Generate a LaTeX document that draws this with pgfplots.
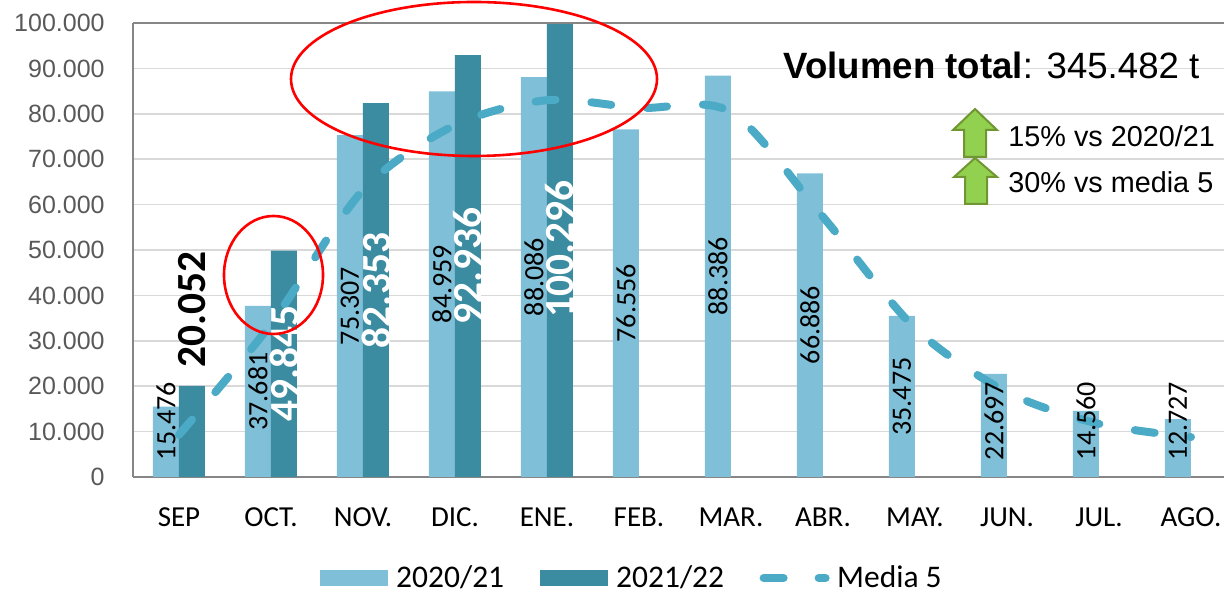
\documentclass[border=0pt]{standalone}
\usepackage{fontspec}
\setmainfont{Carlito}
\newfontfamily\arial{Liberation Sans}
\usepackage{pgfplots}
\pgfplotsset{compat=1.18}
\definecolor{lightbar}{RGB}{127,191,215}
\definecolor{darkbar}{RGB}{59,139,161}
\definecolor{medline}{RGB}{75,170,198}
\definecolor{gridc}{RGB}{217,217,217}
\definecolor{axisc}{RGB}{134,134,134}
\definecolor{tickc}{RGB}{89,89,89}
\definecolor{arrowfill}{RGB}{146,208,80}
\definecolor{arrowdraw}{RGB}{112,150,50}
\begin{document}
\begin{tikzpicture}
\useasboundingbox (0,0) rectangle (612pt,296.5pt);
\begin{axis}[
  at={(66.5pt,58pt)}, anchor=south west,
  width=545.5pt, height=227pt, scale only axis,
  xmin=-0.5, xmax=11.359, ymin=0, ymax=100000,
  scaled y ticks=false,
  axis x line*=bottom, axis y line*=left,
  axis line style={-, draw=axisc, line width=0.75pt},
  ytick={0,10000,20000,30000,40000,50000,60000,70000,80000,90000,100000},
  yticklabels={0,10.000,20.000,30.000,40.000,50.000,60.000,70.000,80.000,90.000,100.000},
  xtick={0,1,2,3,4,5,6,7,8,9,10,11},
  xticklabels={SEP,OCT.,NOV.,DIC.,ENE.,FEB.,MAR.,ABR.,MAY.,JUN.,JUL.,AGO.},
  major tick length=0pt,
  ymajorgrids, grid style={gridc, line width=0.75pt},
  yticklabel style={font=\arial\fontsize{12.5pt}{12.5pt}\selectfont, text=tickc, anchor=east, inner sep=0pt, xshift=-14pt},
  xticklabel style={font=\fontsize{14.5pt}{14.5pt}\selectfont, anchor=base, inner sep=0pt, yshift=-25pt},
  legend style={at={(0.4578,-0.2225)}, anchor=center, draw=none, fill=none,
    font=\fontsize{15.75pt}{15.75pt}\selectfont,
    /tikz/every even column/.append style={column sep=16pt},
    inner sep=0pt, nodes={inner xsep=1.75pt, inner ysep=0pt}},
  legend columns=3, legend cell align=left,
]
\addplot[ybar, bar width=13pt, bar shift=-6.5pt, fill=lightbar, draw=none,
  legend image code/.code={\fill[lightbar] (0pt,-4pt) rectangle (34pt,4pt); \path (36.5pt,0pt);}]
  coordinates {(0,15476) (1,37681) (2,75307) (3,84959) (4,88086) (5,76556)
               (6,88386) (7,66886) (8,35475) (9,22697) (10,14560) (11,12727)};
\addlegendentry{2020/21}
\addplot[ybar, bar width=13pt, bar shift=6.5pt, fill=darkbar, draw=none,
  legend image code/.code={\fill[darkbar] (0pt,-4pt) rectangle (34pt,4pt); \path (36.5pt,0pt);}]
  coordinates {(0,20052) (1,49845) (2,82353) (3,92936) (4,100296)};
\addlegendentry{2021/22}
% value labels 2020/21
\addplot[forget plot, draw=none, mark=none, point meta=explicit symbolic, nodes near coords,
  every node near coord/.append style={font=\fontsize{14pt}{14pt}\selectfont, text=black, rotate=90, anchor=center, inner sep=0pt}]
  coordinates {(-0.1413,12300)[15.476] (0.8587,18840)[37.681] (1.8587,37650)[75.307]
   (2.8587,42480)[84.959] (3.8587,44040)[88.086] (4.8587,38280)[76.556]
   (5.8587,44190)[88.386] (6.8587,33440)[66.886] (7.8587,17740)[35.475]
   (8.8587,12300)[22.697] (9.8587,12300)[14.560] (10.8587,12300)[12.727]};
% value labels 2021/22
\addplot[forget plot, draw=none, mark=none, point meta=explicit symbolic, nodes near coords,
  every node near coord/.append style={font=\bfseries\fontsize{20.7pt}{20.7pt}\selectfont, text=white, rotate=90, anchor=center, inner sep=0pt}]
  coordinates {(1.1413,24920)[49.845] (2.1413,41180)[82.353] (3.1413,46470)[92.936] (4.1413,50150)[100.296]};
\addplot[forget plot, draw=none, mark=none, point meta=explicit symbolic, nodes near coords,
  every node near coord/.append style={font=\bfseries\fontsize{20.7pt}{20.7pt}\selectfont, text=black, rotate=90, anchor=center, inner sep=0pt}]
  coordinates {(0.1413,36800)[20.052]};
\addplot[smooth, medline, line width=4pt, line cap=round, dash pattern=on 10pt off 18pt,
  legend image code/.code={\draw[medline, line width=4pt, line cap=round] (2pt,0pt)--(13pt,0pt) (29.5pt,0pt)--(33pt,0pt); \path (35pt,0pt);}]
  coordinates {(0,9300) (1,33700) (2,63200) (3,77500) (4,83000) (5,81300)
               (6,80400) (7,57300) (8,32800) (9,18700) (10,11700) (11,8800)};
\addlegendentry{Media 5}
\draw[axisc, line width=0.75pt] (rel axis cs:0,1) -- (rel axis cs:1,1);
\end{axis}
\begin{scope}[x=0.5pt, y=-0.5pt, shift={(0pt,296.5pt)}]
\draw[red, line width=1.3pt] (474,79) ellipse [x radius=183, y radius=77];
\draw[red, line width=1.3pt] (273.5,275) ellipse [x radius=49.5, y radius=59];
\filldraw[fill=arrowfill, draw=arrowdraw, line width=1pt] (975,109) -- (997,130) -- (986,130) -- (986,157) -- (964,157) -- (964,130) -- (953,130) -- cycle;
\filldraw[fill=arrowfill, draw=arrowdraw, line width=1pt] (975,158) -- (997,177) -- (987,177) -- (987,204) -- (965,204) -- (965,177) -- (954,177) -- cycle;
\node[anchor=base, font=\arial\fontsize{18.3pt}{18.3pt}\selectfont, inner sep=0pt] at (991.5,79) {\textbf{Volumen total}: 345.482 t};
\node[anchor=base west, font=\arial\fontsize{14.4pt}{14.4pt}\selectfont, inner sep=0pt] at (1008,147) {15\% vs 2020/21};
\node[anchor=base west, font=\arial\fontsize{14.4pt}{14.4pt}\selectfont, inner sep=0pt] at (1008,193) {30\% vs media 5};
\end{scope}
\end{tikzpicture}
\end{document}
